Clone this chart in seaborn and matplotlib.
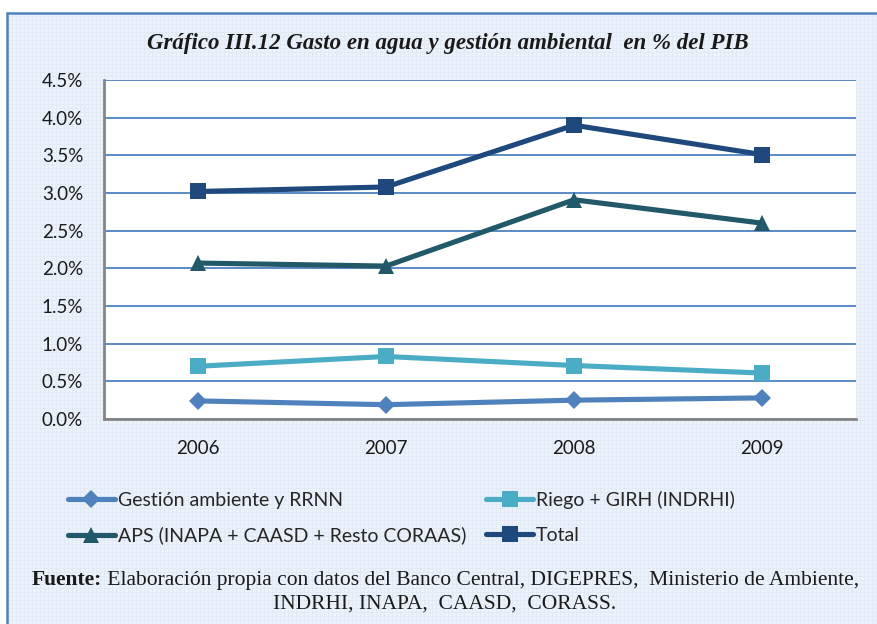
import numpy as np
import pandas as pd
import seaborn as sns
import matplotlib
matplotlib.use("Agg")
import matplotlib.pyplot as plt
from matplotlib.ticker import FixedLocator, FuncFormatter
from matplotlib.lines import Line2D

# ---- data (% of GDP) ----
years = ["2006", "2007", "2008", "2009"]
gestion = [0.24, 0.19, 0.25, 0.28]
riego = [0.70, 0.83, 0.71, 0.61]
aps = [2.07, 2.03, 2.91, 2.60]
total = [3.02, 3.08, 3.90, 3.51]

series_names = [
    "Gestión ambiente y RRNN",
    "Riego + GIRH (INDRHI)",
    "APS (INAPA + CAASD + Resto CORAAS)",
    "Total",
]
y_ticks = [0.0, 0.5, 1.0, 1.5, 2.0, 2.5, 3.0, 3.5, 4.0, 4.5]

df = pd.DataFrame({
    "pos": list(range(len(years))) * 4,
    "valor": gestion + riego + aps + total,
    "serie": sum([[n] * len(years) for n in series_names], []),
})

styles = {
    series_names[0]: dict(color="#4F81BD", marker="D", ms=9.5),
    series_names[1]: dict(color="#4BACC6", marker="s", ms=11.5),
    series_names[2]: dict(color="#215968", marker="^", ms=12),
    series_names[3]: dict(color="#1F497D", marker="s", ms=11.5),
}

sns.set_theme(style="white")
plt.rcParams["font.family"] = ["Lato", "DejaVu Sans"]

W, H = 877, 624
fig = plt.figure(figsize=(W / 100, H / 100), dpi=100)

# light blue chart-area background with a fine grid texture
tex = np.empty((H, W, 3))
tex[:] = np.array([236, 242, 249]) / 255
line_c = np.array([226, 234, 245]) / 255
tex[::4, :, :] = line_c
tex[:, ::4, :] = line_c
tex[:13, :, :] = 1.0
tex[:, :7, :] = 1.0
fig.figimage(tex, xo=0, yo=0, zorder=-10, origin="upper")

# outer frame (top and left edges)
frame_c = "#4F81BD"
fig.add_artist(Line2D([7 / W, 1.0], [1 - 13 / H, 1 - 13 / H], transform=fig.transFigure,
                      color=frame_c, lw=1.8))
fig.add_artist(Line2D([7 / W, 7 / W], [0, 1 - 13 / H], transform=fig.transFigure,
                      color=frame_c, lw=1.8))

ax = fig.add_axes([104 / W, 1 - 419 / H, (856 - 104) / W, (419 - 80) / H])
ax.set_facecolor("white")

for name in series_names:
    st = styles[name]
    sns.lineplot(data=df[df["serie"] == name], x="pos", y="valor", ax=ax,
                 color=st["color"], marker=st["marker"], markersize=st["ms"],
                 markeredgecolor=st["color"], markeredgewidth=0, linewidth=3.7,
                 label=name, legend=False, zorder=3)

ax.set_xlim(-0.5, len(years) - 0.5)
ax.set_ylim(0, 4.5)
ax.yaxis.set_major_locator(FixedLocator(y_ticks))
ax.yaxis.set_major_formatter(FuncFormatter(lambda v, p: f"{v:.1f}%"))
ax.set_xticks(range(len(years)))
ax.set_xticklabels(years)
ax.set_xlabel("")
ax.set_ylabel("")
ax.grid(axis="y", color="#5B8AC4", lw=1.4, zorder=1)
ax.grid(axis="x", visible=False)
for s in ["top", "right"]:
    ax.spines[s].set_visible(False)
for s in ["left", "bottom"]:
    ax.spines[s].set_color("#868686")
    ax.spines[s].set_linewidth(2)
ax.tick_params(axis="both", length=0, labelsize=13.5, colors="#1a1a1a")
ax.tick_params(axis="y", pad=15)
ax.tick_params(axis="x", pad=15)

# title
fig.text(447.5 / W, 1 - 43 / H, "Gráfico III.12 Gasto en agua y gestión ambiental  en % del PIB",
         ha="center", va="center", family="Liberation Serif", style="italic",
         weight="bold", fontsize=16.5, color="#1a1a1a")

# legend: two rows, two columns
handles = []
for name in series_names:
    st = styles[name]
    handles.append(Line2D([], [], color=st["color"], marker=st["marker"], lw=3.7,
                          markersize=st["ms"], markeredgewidth=0))
order = [0, 2, 1, 3]
fig.legend([handles[i] for i in order], [series_names[i] for i in order],
           ncol=2, loc="upper left", bbox_to_anchor=(68 / W, 1 - 491 / H),
           frameon=False, fontsize=14, handlelength=2.4, handletextpad=0.15,
           columnspacing=1.05, labelspacing=0.9, borderaxespad=0, borderpad=0)

# source note: bold lead-in followed by regular text, centred as one line
fig.canvas.draw()
renderer = fig.canvas.get_renderer()
note_kw = dict(family="Liberation Serif", fontsize=15.5, color="#1a1a1a", va="center")
lead = fig.text(0, 1 - 580 / H, "Fuente:", weight="bold", ha="left", **note_kw)
rest = fig.text(0, 1 - 580 / H,
                " Elaboración propia con datos del Banco Central, DIGEPRES,  Ministerio de Ambiente,",
                ha="left", **note_kw)
w_lead = lead.get_window_extent(renderer).width
w_rest = rest.get_window_extent(renderer).width
x0 = 445 - (w_lead + w_rest) / 2
lead.set_x(x0 / W)
rest.set_x((x0 + w_lead) / W)
fig.text(445 / W, 1 - 604 / H, "INDRHI, INAPA,  CAASD,  CORASS.", ha="center", **note_kw)

fig.savefig("out.png", dpi=100)
